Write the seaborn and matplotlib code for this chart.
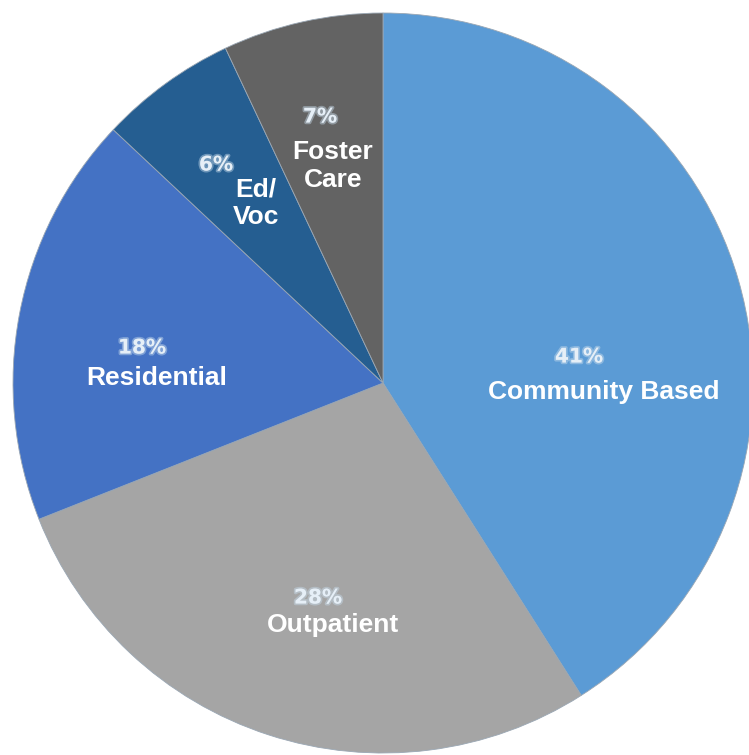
import matplotlib
matplotlib.use("Agg")
import matplotlib.pyplot as plt
import matplotlib.patheffects as pe
import seaborn as sns

sns.set_theme(style="white")
plt.rcParams['font.family'] = ['Liberation Sans', 'DejaVu Sans']

categories = ["Community Based", "Outpatient", "Residential", "Ed/\nVoc", "Foster\nCare"]
values = [41, 28, 18, 6, 7]
pct_labels = ["41%", "28%", "18%", "6%", "7%"]
colors = ["#5b9bd5", "#a5a5a5", "#4472c4", "#255e91", "#636363"]

# label layout (pixel positions in the figure)
pct_pos = [(579, 357), (318, 598), (142, 348), (216, 165), (320, 117)]
name_pos = [(604, 392), (333, 625), (157, 378), (256, 203), (333, 166)]

W, H = 749, 755
cx, cy, R = 383, 383, 370

fig = plt.figure(figsize=(W / 100, H / 100), dpi=100)
ax = fig.add_axes([(cx - R) / W, (H - cy - R) / H, 2 * R / W, 2 * R / H])
ax.pie(values, colors=colors, startangle=90, counterclock=False,
       wedgeprops=dict(linewidth=0.6, edgecolor="#9aa7b4"))
ax.set_xlim(-1, 1)
ax.set_ylim(-1, 1)
ax.set_aspect("equal")
ax.axis("off")

def to_data(p):
    return (p[0] - cx) / R, (cy - p[1]) / R

for lab, p in zip(pct_labels, pct_pos):
    x, y = to_data(p)
    ax.text(x, y, lab, ha="center", va="center", fontsize=14.5, fontweight="bold",
            color="#e6eff7", family=["DejaVu Sans"],
            path_effects=[pe.withStroke(linewidth=2.5, foreground="#c8dcec", alpha=0.45)])

for lab, p in zip(categories, name_pos):
    x, y = to_data(p)
    ax.text(x, y, lab, ha="center", va="center", fontsize=19, fontweight="bold",
            color="white", linespacing=1.2)

fig.savefig("out.png", dpi=100)
